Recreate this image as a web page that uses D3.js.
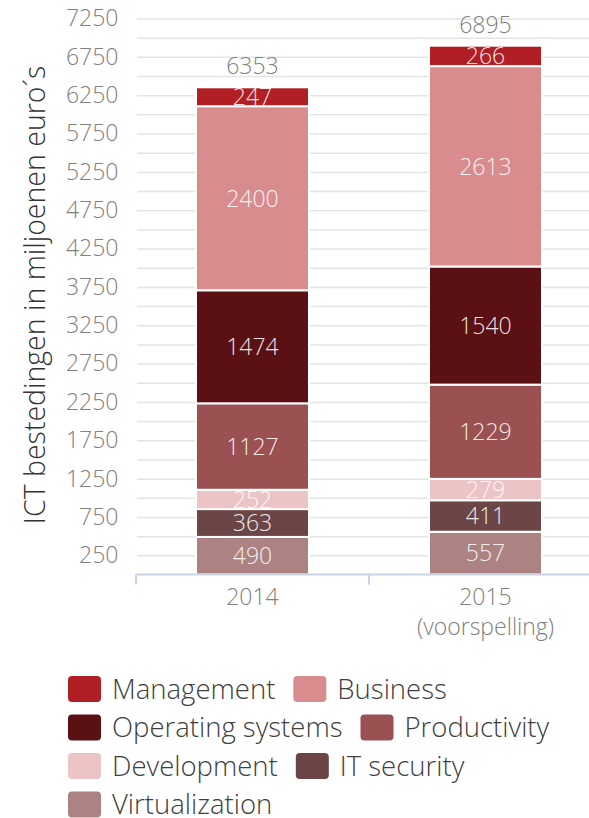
<!DOCTYPE html>
<html lang="nl">
<head>
<meta charset="UTF-8">
<title>ICT bestedingen</title>
<script src="https://cdn.jsdelivr.net/npm/d3@7"></script>
<style>
body{margin:0;background:#fff}
svg text{font-family:"Open Sans",sans-serif;font-weight:300}
</style>
</head>
<body>
<svg id="chart" width="589" height="818"></svg>
<script>
// data
let years=["2014","2015"]
let yearNotes=["","(voorspelling)"]
let series=["Virtualization","IT security","Development","Productivity","Operating systems","Business","Management"]
let colors=["#ac8283","#6c4647","#edc4c5","#9b5052","#5b1013","#d98c8d","#b11f24"]
let virtualization=[490,557]
let itSecurity=[363,411]
let development=[252,279]
let productivity=[1127,1229]
let operatingSystems=[1474,1540]
let business=[2400,2613]
let management=[247,266]
let yTicks=d3.range(250,7251,500)
let gridTicks=d3.range(250,7251,250)
let legendRows=[["Management","Business"],["Operating systems","Productivity"],["Development","IT security"],["Virtualization"]]

let rows=years.map((yr,i)=>({
    year:yr,
    "Virtualization":virtualization[i],
    "IT security":itSecurity[i],
    "Development":development[i],
    "Productivity":productivity[i],
    "Operating systems":operatingSystems[i],
    "Business":business[i],
    "Management":management[i]
}))

let svg=d3.select("#chart")
let color=d3.scaleOrdinal().domain(series).range(colors)

let x=d3.scaleBand().domain(years).range([136,602])
let barW=x.bandwidth()*0.485
let y=d3.scaleLinear().domain([0,7250]).range([574.5,18.5])

// gridlines
let grid=svg.append("g")
    .attr("transform","translate(137,0)")
    .call(d3.axisLeft(y).tickValues(gridTicks).tickSize(-470).tickFormat(""))
grid.select(".domain").remove()
grid.selectAll("line").attr("stroke","#e4e4e4").attr("stroke-width",1.5)

// y tick labels
let yax=svg.append("g")
    .attr("transform","translate(118.5,0)")
    .call(d3.axisLeft(y).tickValues(yTicks).tickSize(0).tickPadding(0).tickFormat(d3.format("d")))
yax.select(".domain").remove()
yax.selectAll("text")
    .attr("font-family",null).attr("font-size",null)
    .style("font-size","23px").attr("fill","#808080")

// bars
let stacked=d3.stack().keys(series)(rows)
let layer=svg.selectAll("g.layer").data(stacked).enter()
    .append("g").attr("class","layer")
    .attr("fill",d=>color(d.key))

layer.selectAll("rect").data(d=>d).enter()
    .append("rect")
    .attr("x",d=>x(d.data.year)+(x.bandwidth()-barW)/2)
    .attr("y",d=>y(d[1]))
    .attr("width",barW)
    .attr("height",d=>y(d[0])-y(d[1]))
    .attr("stroke","#fff")
    .attr("stroke-width",2)

layer.selectAll("text").data(d=>d.map(v=>({v:v,key:d.key}))).enter()
    .append("text")
    .attr("x",d=>x(d.v.data.year)+x.bandwidth()/2)
    .attr("y",d=>(y(d.v[0])+y(d.v[1]))/2)
    .attr("dy",".36em")
    .attr("text-anchor","middle")
    .style("font-size","23px")
    .attr("fill","#fff")
    .attr("fill-opacity",0.9)
    .text(d=>d.v.data[d.key])

// totals
svg.selectAll("text.total").data(rows).enter()
    .append("text").attr("class","total")
    .attr("x",d=>x(d.year)+x.bandwidth()/2)
    .attr("y",d=>y(d3.sum(series,k=>d[k]))-13)
    .attr("text-anchor","middle")
    .style("font-size","23px")
    .attr("fill","#808080")
    .text(d=>d3.sum(series,k=>d[k]))

// x axis
svg.append("line")
    .attr("x1",x.range()[0]).attr("x2",x.range()[1])
    .attr("y1",y(0)).attr("y2",y(0))
    .attr("stroke","#c8d4e4").attr("stroke-width",2)
svg.selectAll("line.xtick").data(years).enter()
    .append("line").attr("class","xtick")
    .attr("x1",d=>x(d)).attr("x2",d=>x(d))
    .attr("y1",y(0)).attr("y2",y(0)+10)
    .attr("stroke","#c8d4e4").attr("stroke-width",2)
let xl=svg.selectAll("text.xlab").data(years).enter()
    .append("text").attr("class","xlab")
    .attr("x",d=>x(d)+x.bandwidth()/2)
    .attr("y",605)
    .attr("text-anchor","middle")
    .style("font-size","23px")
    .attr("fill","#808080")
xl.append("tspan").text(d=>d)
xl.append("tspan")
    .attr("x",d=>x(d)+x.bandwidth()/2)
    .attr("dy",30)
    .text((d,i)=>yearNotes[i])

// y title
svg.append("text")
    .attr("transform","translate(45,295) rotate(-90)")
    .attr("text-anchor","middle")
    .style("font-size","28.5px")
    .attr("fill","#333")
    .text("ICT bestedingen in miljoenen euro´s")

// legend
legendRows.forEach((row,r)=>{
    let cy=689+r*38.5
    let lx=68
    row.forEach(name=>{
        let g=svg.append("g")
        g.append("rect")
            .attr("x",lx).attr("y",cy-13)
            .attr("width",33).attr("height",26)
            .attr("rx",4)
            .attr("fill",color(name))
        let t=g.append("text")
            .attr("x",lx+44).attr("y",cy)
            .attr("dy",".36em")
            .style("font-size","27.5px")
            .attr("fill","#404040")
            .text(name)
        lx+=44+t.node().getComputedTextLength()+18
    })
})
</script>
</body>
</html>
